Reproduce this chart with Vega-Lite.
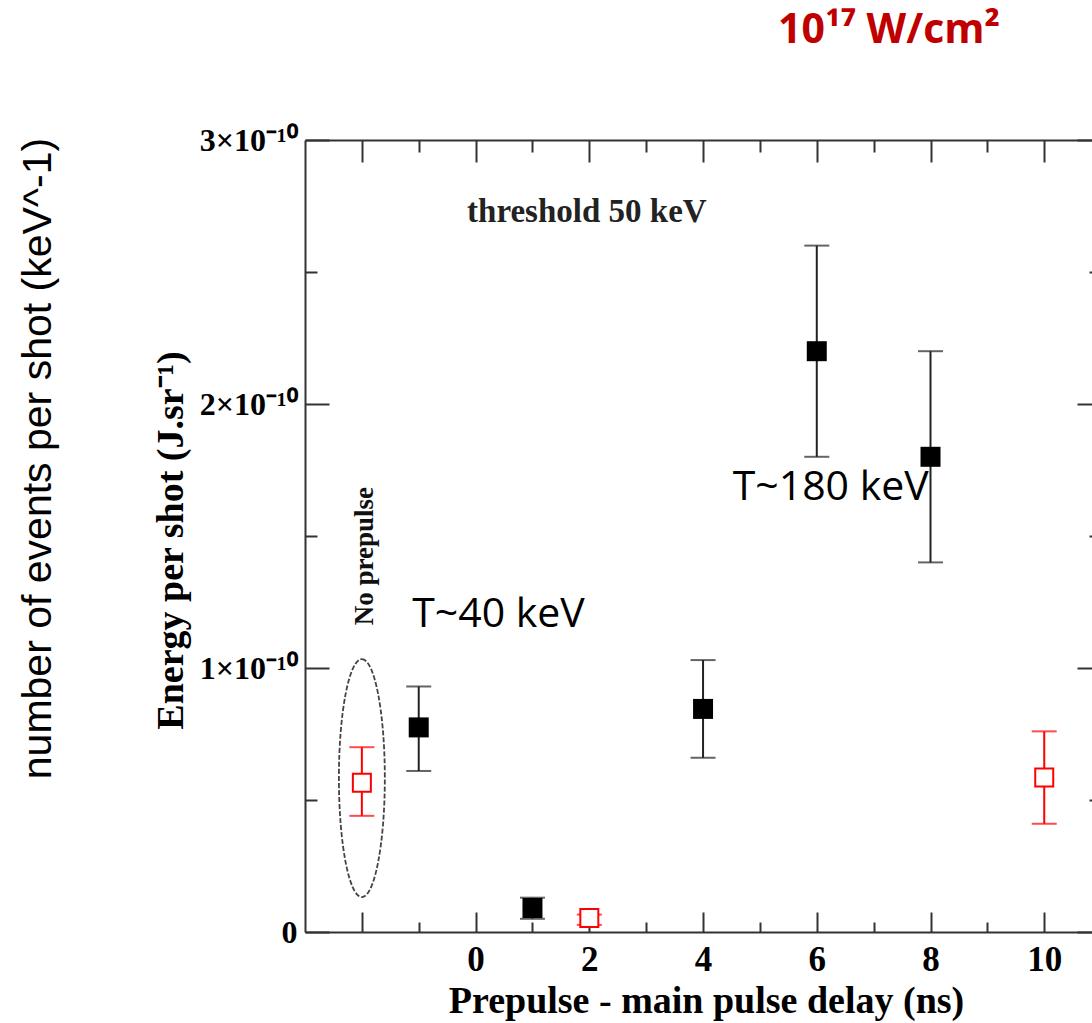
{
  "$schema": "https://vega.github.io/schema/vega-lite/v6.json",
  "width": 787,
  "height": 792,
  "autosize": "none",
  "padding": {"left": 305, "top": 140, "right": 0, "bottom": 91},
  "title": {
    "text": "10¹⁷ W/cm²",
    "color": "#C00000",
    "font": "Open Sans",
    "fontWeight": "bold",
    "fontSize": 41,
    "anchor": "start",
    "frame": "group",
    "dx": 473,
    "offset": 72
  },
  "datasets": {
    "points": [
      {"delay": -2, "energy": 5.65e-11, "lo": 4.4e-11, "hi": 7.0e-11, "series": "No prepulse"},
      {"delay": -1, "energy": 7.75e-11, "lo": 6.1e-11, "hi": 9.3e-11, "series": "Prepulse"},
      {"delay": 1, "energy": 9.1e-12, "lo": 5.0e-12, "hi": 1.3e-11, "series": "Prepulse"},
      {"delay": 2, "energy": 5.3e-12, "lo": 2.7e-12, "hi": 6.6e-12, "series": "No prepulse"},
      {"delay": 4, "energy": 8.45e-11, "lo": 6.6e-11, "hi": 1.03e-10, "series": "Prepulse"},
      {"delay": 6, "energy": 2.2e-10, "lo": 1.8e-10, "hi": 2.6e-10, "series": "Prepulse"},
      {"delay": 8, "energy": 1.8e-10, "lo": 1.4e-10, "hi": 2.2e-10, "series": "Prepulse"},
      {"delay": 10, "energy": 5.85e-11, "lo": 4.1e-11, "hi": 7.6e-11, "series": "No prepulse"}
    ]
  },
  "layer": [
    {
      "data": {"values": [{"delay": -2, "energy": 5.83e-11}]},
      "mark": {
        "type": "point",
        "shape": "M0,-1C0.1066,-1 0.193,-0.5523 0.193,0C0.193,0.5523 0.1066,1 0,1C-0.1066,1 -0.193,0.5523 -0.193,0C-0.193,-0.5523 -0.1066,-1 0,-1Z",
        "size": 56644,
        "filled": false,
        "stroke": "#444444",
        "strokeWidth": 1.8,
        "strokeDash": [5, 2],
        "opacity": 1
      },
      "encoding": {
        "x": {"field": "delay", "type": "quantitative", "scale": {"domain": [-3, 10.84], "nice": false, "zero": false}, "axis": null},
        "y": {"field": "energy", "type": "quantitative", "scale": {"domain": [0, 3e-10], "nice": false}, "axis": {
          "orient": "left", "ticks": false, "labels": false, "domain": false,
          "title": "number of events per shot (keV^-1)",
          "titleFont": "Liberation Sans", "titleFontWeight": "normal", "titleFontSize": 41, "titleColor": "#000000",
          "titleAngle": -90, "titleX": -267, "titleY": 318, "titleAlign": "center", "titleBaseline": "middle"
        }}
      }
    },
    {
      "data": {"name": "points"},
      "mark": {"type": "rule", "strokeWidth": 2},
      "encoding": {
        "x": {"field": "delay", "type": "quantitative", "axis": {
          "orient": "bottom", "values": [-2, 0, 2, 4, 6, 8, 10], "tickSize": -20,
          "labelExpr": "datum.value < 0 ? '' : datum.label",
          "labelFontSize": 35, "labelPadding": 58, "labelBaseline": "alphabetic", "labelFlush": false, "labelOverlap": false,
          "title": "Prepulse - main pulse delay (ns)", "titleFontSize": 38,
          "titleX": 401, "titleY": 80, "titleAlign": "center", "titleBaseline": "alphabetic"
        }},
        "y": {"field": "lo", "type": "quantitative", "axis": {
          "orient": "left", "values": [0, 1e-10, 2e-10, 3e-10], "tickSize": -24,
          "labelExpr": "datum.value == 0 ? '0' : round(datum.value * 1e10) + '×10⁻¹⁰'",
          "labelFontSize": 32, "labelPadding": 32, "labelBaseline": "middle", "labelFlush": false, "labelOverlap": false,
          "title": "Energy per shot (J.sr⁻¹)", "titleFontSize": 38,
          "titleAngle": -90, "titleX": -134, "titleY": 400, "titleAlign": "center", "titleBaseline": "middle"
        }},
        "y2": {"field": "hi"},
        "color": {"field": "series", "type": "nominal", "scale": {"domain": ["Prepulse", "No prepulse"], "range": ["#222222", "#ff0000"]}, "legend": null}
      }
    },
    {
      "data": {"name": "points"},
      "mark": {"type": "tick", "orient": "horizontal", "size": 25, "thickness": 2},
      "encoding": {
        "x": {"field": "delay", "type": "quantitative", "axis": {
          "orient": "bottom", "values": [-1, 1, 3, 5, 7, 9], "tickSize": -10, "labels": false, "domain": false, "title": null
        }},
        "y": {"field": "lo", "type": "quantitative", "axis": {
          "orient": "left", "values": [5e-11, 1.5e-10, 2.5e-10], "tickSize": -12, "labels": false, "domain": false, "title": null
        }},
        "color": {"field": "series", "type": "nominal", "scale": {"domain": ["Prepulse", "No prepulse"], "range": ["#222222", "#ff0000"]}, "legend": null}
      }
    },
    {
      "data": {"name": "points"},
      "mark": {"type": "tick", "orient": "horizontal", "size": 25, "thickness": 2},
      "encoding": {
        "x": {"field": "delay", "type": "quantitative", "axis": {
          "orient": "top", "values": [-2, 0, 2, 4, 6, 8, 10], "tickSize": -22, "labels": false, "title": null
        }},
        "y": {"field": "hi", "type": "quantitative", "axis": {
          "orient": "right", "values": [0, 1e-10, 2e-10, 3e-10], "tickSize": -24, "labels": false, "offset": 9, "title": null
        }},
        "color": {"field": "series", "type": "nominal", "scale": {"domain": ["Prepulse", "No prepulse"], "range": ["#222222", "#ff0000"]}, "legend": null}
      }
    },
    {
      "data": {"name": "points"},
      "transform": [{"filter": "datum.series === 'Prepulse'"}],
      "mark": {"type": "square", "size": 400, "color": "#000000", "opacity": 1},
      "encoding": {
        "x": {"field": "delay", "type": "quantitative", "axis": {
          "orient": "top", "values": [-1, 1, 3, 5, 7, 9], "tickSize": -12, "labels": false, "domain": false, "title": null
        }},
        "y": {"field": "energy", "type": "quantitative", "axis": {
          "orient": "right", "values": [5e-11, 1.5e-10, 2.5e-10], "tickSize": -12, "labels": false, "domain": false, "offset": 9, "title": null
        }}
      }
    },
    {
      "data": {"name": "points"},
      "transform": [{"filter": "datum.series === 'No prepulse'"}],
      "mark": {"type": "square", "size": 324, "fill": "#ffffff", "stroke": "#ff0000", "strokeWidth": 2, "opacity": 1},
      "encoding": {
        "x": {"field": "delay", "type": "quantitative", "axis": null},
        "y": {"field": "energy", "type": "quantitative", "axis": null}
      }
    },
    {
      "data": {"values": [{"delay": -0.15, "energy": 2.689e-10, "label": "threshold 50 keV"}]},
      "mark": {"type": "text", "font": "Liberation Serif", "fontWeight": "bold", "fontSize": 33, "color": "#222222", "align": "left", "baseline": "alphabetic"},
      "encoding": {
        "x": {"field": "delay", "type": "quantitative", "axis": null},
        "y": {"field": "energy", "type": "quantitative", "axis": null},
        "text": {"field": "label"}
      }
    },
    {
      "data": {"values": [{"delay": -1.943, "energy": 1.424e-10, "label": "No prepulse"}]},
      "mark": {"type": "text", "font": "Liberation Serif", "fontWeight": "bold", "fontSize": 27, "color": "#111111", "align": "center", "baseline": "middle", "angle": 270},
      "encoding": {
        "x": {"field": "delay", "type": "quantitative", "axis": null},
        "y": {"field": "energy", "type": "quantitative", "axis": null},
        "text": {"field": "label"}
      }
    },
    {
      "data": {"values": [
        {"delay": -1.115, "energy": 1.155e-10, "label": "T~40 keV"},
        {"delay": 4.521, "energy": 1.636e-10, "label": "T~180 keV"}
      ]},
      "mark": {"type": "text", "font": "Open Sans", "fontSize": 41, "color": "#000000", "align": "left", "baseline": "alphabetic"},
      "encoding": {
        "x": {"field": "delay", "type": "quantitative", "axis": null},
        "y": {"field": "energy", "type": "quantitative", "axis": null},
        "text": {"field": "label"}
      }
    }
  ],
  "resolve": {"axis": {"x": "independent", "y": "independent"}},
  "config": {
    "view": {"stroke": null},
    "axis": {
      "grid": false,
      "domainColor": "#333333",
      "domainWidth": 2,
      "tickColor": "#333333",
      "tickWidth": 2,
      "labelFont": "Liberation Serif",
      "labelFontWeight": "bold",
      "labelColor": "#000000",
      "titleFont": "Liberation Serif",
      "titleFontWeight": "bold",
      "titleColor": "#000000"
    }
  }
}
